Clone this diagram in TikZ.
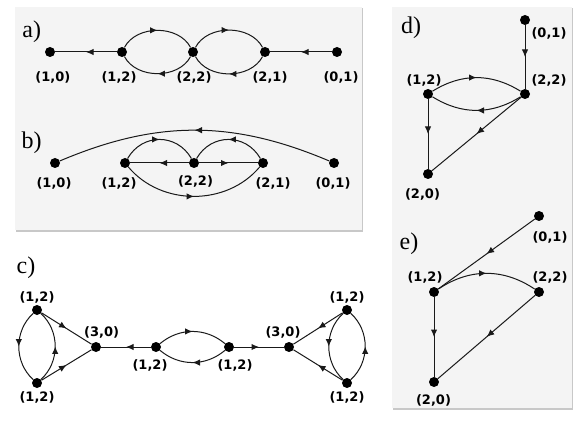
\documentclass[tikz,border=0pt]{standalone}
\usepackage{fontspec}
\setmainfont{Liberation Serif}
\newfontfamily\labfont{DejaVu Sans Bold}
\usetikzlibrary{arrows.meta,decorations.markings}
\definecolor{boxbg}{HTML}{F4F4F4}
\definecolor{shadowc}{HTML}{C8C8C8}
\tikzset{
  dot/.style={circle,fill=black,inner sep=0pt,minimum size=10pt},
  lab/.style={font=\labfont\fontsize{13}{15}\selectfont,inner sep=0pt},
  panellab/.style={font=\fontsize{24}{26}\selectfont,inner sep=0pt},
  edge/.style={line width=1pt,draw=black!90,postaction={decorate},
    decoration={markings,mark=at position 0.5 with {\arrow{Latex[length=7.5pt,width=6.5pt]}}}},
  panelbox/.style={fill=boxbg,draw=none},
  shadowbox/.style={fill=shadowc,draw=none}
}
\begin{document}
\begin{tikzpicture}[x=1pt,y=-1pt]
\useasboundingbox (0,0) rectangle (581,422);
% boxes
\fill[shadowc] (15.5,8) rectangle (363,232);
\fill[boxbg] (15,7) rectangle (362,230);
\fill[shadowc] (392.5,8) rectangle (573,410);
\fill[boxbg] (392,7) rectangle (572,408);

% panel a
\node[panellab] (la) at (31.7,32) {a)};
\node[dot] (A10) at (50,52) {};
\node[dot] (A12) at (122,52) {};
\node[dot] (A22) at (193,52) {};
\node[dot] (A21) at (265,52) {};
\node[dot] (A01) at (337,52) {};
\draw[edge] (A12) -- (A10);
\draw[edge] (A12) to[bend left=62] (A22);
\draw[edge] (A22) to[bend left=62] (A12);
\draw[edge] (A22) to[bend left=62] (A21);
\draw[edge] (A21) to[bend left=62] (A22);
\draw[edge] (A01) -- (A21);
\node[lab] (tA10) at (52.8,77) {(1,0)};
\node[lab] (tA12) at (119,77) {(1,2)};
\node[lab] (tA22) at (194,77) {(2,2)};
\node[lab] (tA21) at (270,77) {(2,1)};
\node[lab] (tA01) at (341,77) {(0,1)};

% panel b
\node[panellab] (lb) at (31.7,142.5) {b)};
\node[dot] (B10) at (55,163) {};
\node[dot] (B12) at (125,163) {};
\node[dot] (B22) at (194,163) {};
\node[dot] (B21) at (263,163) {};
\node[dot] (B01) at (334,163) {};
\draw[edge] (B01) to[bend right=23] (B10);
\draw[edge] (B12) to[bend left=60,looseness=1.18] (B22);
\draw[edge] (B22) -- (B12);
\draw[edge] (B21) to[bend right=60,looseness=1.18] (B22);
\draw[edge] (B22) -- (B21);
\draw[edge] (B12) to[bend right=50] (B21);
\node[lab] (tB10) at (54,183) {(1,0)};
\node[lab] (tB12) at (119,183) {(1,2)};
\node[lab] (tB22) at (195.5,181) {(2,2)};
\node[lab] (tB21) at (273,183) {(2,1)};
\node[lab] (tB01) at (333,183) {(0,1)};

% panel c
\node[panellab] (lc) at (26,267.5) {c)};
\node[dot] (CL1) at (37,310) {};
\node[dot] (CL2) at (37,383) {};
\node[dot] (C30L) at (96,347) {};
\node[dot] (C12L) at (156,347) {};
\node[dot] (C12R) at (229,347) {};
\node[dot] (C30R) at (289,347) {};
\node[dot] (CR1) at (347,310) {};
\node[dot] (CR2) at (347,383) {};
\draw[edge] (CL1) -- (C30L);
\draw[edge] (CL2) -- (C30L);
\draw[edge] (CL1) to[bend right=48] (CL2);
\draw[edge] (CL2) to[bend right=48] (CL1);
\draw[edge] (C12L) -- (C30L);
\draw[edge] (C12L) to[bend left=40] (C12R);
\draw[edge] (C12R) to[bend left=40] (C12L);
\draw[edge] (C12R) -- (C30R);
\draw[edge] (CR1) -- (C30R);
\draw[edge] (CR2) -- (C30R);
\draw[edge] (CR1) to[bend right=48] (CR2);
\draw[edge] (CR2) to[bend right=48] (CR1);
\node[lab] (tCL1) at (37,297) {(1,2)};
\node[lab] (tCL2) at (37,397) {(1,2)};
\node[lab] (tC30L) at (101.7,332.7) {(3,0)};
\node[lab] (tC12L) at (150,365) {(1,2)};
\node[lab] (tC12R) at (235,365) {(1,2)};
\node[lab] (tC30R) at (283,332.7) {(3,0)};
\node[lab] (tCR1) at (347,297) {(1,2)};
\node[lab] (tCR2) at (347,397) {(1,2)};

% panel d
\node[panellab] (ld) at (411,28) {d)};
\node[dot] (D01) at (525,20) {};
\node[dot] (D22) at (525,94) {};
\node[dot] (D12) at (428,94) {};
\node[dot] (D20) at (428,174) {};
\draw[edge] (D01) -- (D22);
\draw[edge] (D12) to[bend left=32] (D22);
\draw[edge] (D22) to[bend left=32] (D12);
\draw[edge] (D12) -- (D20);
\draw[edge] (D22) -- (D20);
\node[lab] (tD01) at (549,33) {(0,1)};
\node[lab] (tD22) at (549,80) {(2,2)};
\node[lab] (tD12) at (424,80) {(1,2)};
\node[lab] (tD20) at (422.5,194) {(2,0)};

% panel e
\node[panellab] (le) at (409,244) {e)};
\node[dot] (E01) at (539,216) {};
\node[dot] (E12) at (434,292) {};
\node[dot] (E22) at (539,292) {};
\node[dot] (E20) at (434,382) {};
\draw[edge] (E01) -- (E12);
\draw[edge] (E12) to[bend left=34] (E22);
\draw[edge] (E22) -- (E20);
\draw[edge] (E12) -- (E20);
\node[lab] (tE01) at (550,237) {(0,1)};
\node[lab] (tE12) at (425,277) {(1,2)};
\node[lab] (tE22) at (550,277) {(2,2)};
\node[lab] (tE20) at (433.5,400) {(2,0)};
\end{tikzpicture}
\end{document}
